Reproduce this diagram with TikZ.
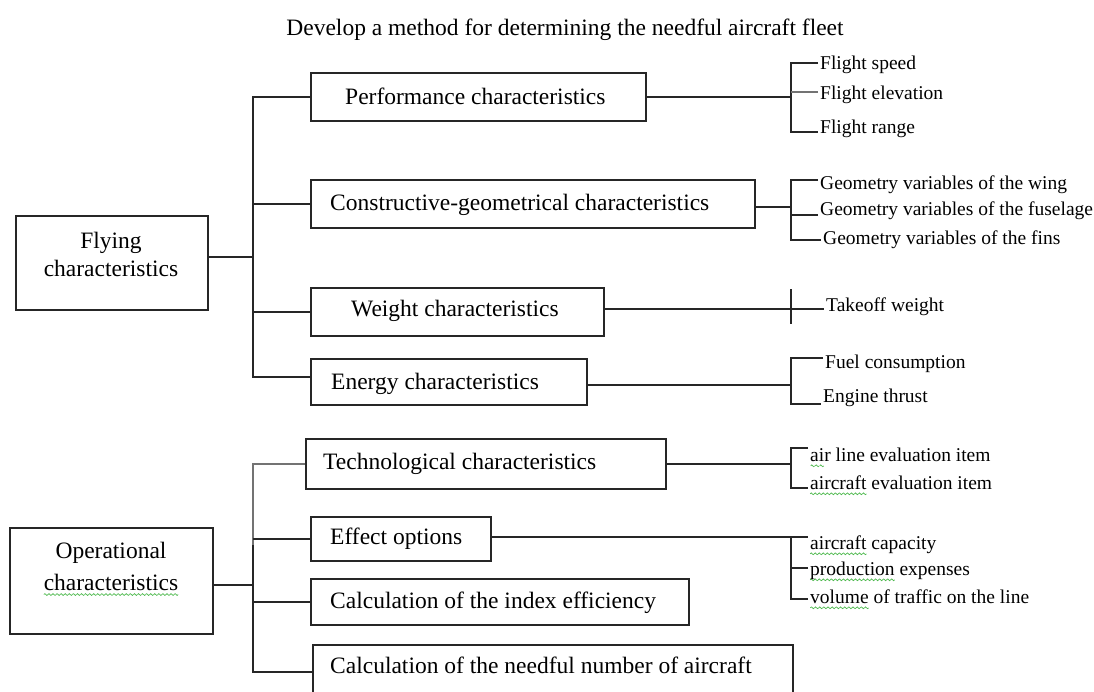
\documentclass[tikz,border=0pt]{standalone}
\usepackage{fontspec}
\setmainfont{Liberation Serif}
\usepackage{tikz}
\definecolor{squig}{HTML}{4CB84C}
\newsavebox\wavebox
% one period of the green spell-check wave
\AtBeginDocument{\global\setbox\wavebox=\hbox{\begin{pgfpicture}
  \pgfpathrectangle{\pgfpoint{0pt}{-1.5pt}}{\pgfpoint{4pt}{3pt}}\pgfusepath{use as bounding box}
  \pgfsetstrokecolor{squig}\pgfsetlinewidth{0.7pt}
  \pgfpathmoveto{\pgfpointorigin}
  \pgfpathquadraticcurveto{\pgfpoint{1pt}{1.8pt}}{\pgfpoint{2pt}{0pt}}
  \pgfpathquadraticcurveto{\pgfpoint{3pt}{-1.8pt}}{\pgfpoint{4pt}{0pt}}
  \pgfusepath{stroke}
\end{pgfpicture}}}
% green wavy underline, as left by a spell checker
\newcommand\spellwave[1]{\leavevmode\setbox0\hbox{#1}%
  \rlap{\raisebox{-6pt}[0pt][0pt]{\hbox to \wd0{\xleaders\copy\wavebox\hfill}}}\box0\relax}

\begin{document}
\begin{tikzpicture}[x=1pt,y=-1pt,
  link/.style={line width=1.9pt, draw=black!85},
  softlink/.style={line width=1.9pt, draw=black!55},
  frame/.style={draw=black!85, line width=1.9pt, anchor=north west, inner sep=0pt},
  boxtext/.style={anchor=mid west, inner sep=0pt, yshift=-5pt, font=\fontsize{23.5}{28}\selectfont},
  headtext/.style={align=center, inner sep=0pt, font=\fontsize{23.5}{28}\selectfont},
  leaf/.style={anchor=mid west, inner xsep=2pt, inner ysep=0pt, yshift=-5pt, font=\fontsize{19.5}{23}\selectfont},
]
\useasboundingbox (0,0) rectangle (1094,691);

\node[font=\fontsize{23.5}{28}\selectfont, yshift=-3pt] (title) at (565,27)
  {Develop a method for determining the needful aircraft fleet};

% ---------- flying characteristics ----------
\node[frame, minimum width=192pt, minimum height=94pt] (flying) at (15,215) {};
\node[headtext] (flying-t) at (111,254) {Flying\\characteristics};

\node[frame, minimum width=335pt, minimum height=48pt] (perf)   at (310,72)  {};
\node[frame, minimum width=444pt, minimum height=48pt] (cons)   at (310,179) {};
\node[frame, minimum width=293pt, minimum height=48pt] (weight) at (310,287) {};
\node[frame, minimum width=276pt, minimum height=46pt] (energy) at (310,358) {};

\node[boxtext] (perf-t)   at (345,97)  {Performance characteristics};
\node[boxtext] (cons-t)   at (330,203) {Constructive-geometrical characteristics};
\node[boxtext] (weight-t) at (351,309) {Weight characteristics};
\node[boxtext] (energy-t) at (331,382) {Energy characteristics};

\coordinate (fx) at (253,0);
\coordinate (fl-o) at ([yshift=6pt]flying.east);
\coordinate (en-i) at ([yshift=5pt]energy.west);
\draw[link] (fl-o) -- (fl-o -| fx);
\draw[link] (perf.west) -| (en-i -| fx) -- (en-i);
\draw[link] (cons.west -| fx) -- (cons.west);
\draw[link] (weight.west -| fx) -- (weight.west);

% leaves of the flying group
\coordinate (bx) at (791,0);
\node[leaf] (fs) at (818,62)  {Flight speed};
\node[leaf] (fe) at (818,92)  {Flight elevation};
\node[leaf] (fr) at (818,126) {Flight range};
\coordinate (fs-t) at (fs.west |- 0,63);
\coordinate (fe-t) at (fe.west |- 0,92);
\coordinate (fr-t) at (fr.west |- 0,132);
\draw[link] (perf.east) -- (perf.east -| bx);
\draw[link] (fs-t) -| (fr-t -| bx) -- (fr-t);
\draw[softlink] (fe-t) -- (fe-t -| bx);

\node[leaf] (gw) at (818,182) {Geometry variables of the wing};
\node[leaf] (gf) at (818,208) {Geometry variables of the fuselage};
\node[leaf] (gn) at (821,237) {Geometry variables of the fins};
\coordinate (gw-t) at (gw.west |- 0,180);
\coordinate (gf-t) at (gf.west |- 0,215);
\coordinate (gn-t) at (gn.west |- 0,240);
\coordinate (co-o) at ([yshift=-3pt]cons.east);
\draw[link] (co-o) -- (co-o -| bx);
\draw[link] (gw-t) -| (gn-t -| bx) -- (gn-t);
\draw[link] (gf-t) -- (gf-t -| bx);

\node[leaf] (tw) at (824,304) {Takeoff weight};
\coordinate (tw-t) at (tw.west |- 0,309);
\draw[link] (weight.east |- tw-t) -- (tw-t);
\draw[link] (tw-t -| bx) ++(0,-20) -- ++(0,35);

\node[leaf] (fc) at (823,361) {Fuel consumption};
\node[leaf] (et) at (821,395) {Engine thrust};
\coordinate (fc-t) at (fc.west |- 0,358);
\coordinate (et-t) at (et.west |- 0,404);
\coordinate (en-o) at ([yshift=-3pt]energy.east);
\draw[link] (en-o) -- (en-o -| bx);
\draw[link] (fc-t) -| (et-t -| bx) -- (et-t);

% ---------- operational characteristics ----------
\node[frame, minimum width=203pt, minimum height=106pt] (oper) at (9,527) {};
\node[headtext, font=\fontsize{23.5}{32}\selectfont] (oper-t) at (111,566)
  {Operational\\\spellwave{characteristics}};

\node[frame, minimum width=360pt, minimum height=50pt] (tech)    at (305,438) {};
\node[frame, minimum width=180pt, minimum height=44pt] (effect)  at (310,516) {};
\node[frame, minimum width=378pt, minimum height=46pt] (calcidx) at (310,578) {};
\node[frame, minimum width=480pt, minimum height=54pt] (needful) at (312,644) {};

\node[boxtext] (tech-t)    at (323,462) {Technological characteristics};
\node[boxtext] (effect-t)  at (330,537) {Effect options};
\node[boxtext] (calcidx-t) at (330,601) {Calculation of the index efficiency};
\node[boxtext] (needful-t) at (330,666) {Calculation of the needful number of aircraft};

\coordinate (ox) at (253,0);
\coordinate (osplit) at (253,545);
\coordinate (op-o) at ([yshift=-4pt]oper.east);
\draw[link] (op-o) -- (op-o -| ox);
\draw[softlink] (tech.west) -| (osplit);
\draw[link] (osplit) |- (needful.west);
\draw[link] (effect.west -| ox) -- (effect.west);
\draw[link] (calcidx.west -| ox) -- (calcidx.west);

\node[leaf] (al) at (808,454) {\spellwave{ai}r line evaluation item};
\node[leaf] (ae) at (808,482) {\spellwave{aircraft} evaluation item};
\coordinate (al-t) at (al.west |- 0,448);
\coordinate (ae-t) at (ae.west |- 0,488);
\draw[link] (tech.east) -- (tech.east -| bx);
\draw[link] (al-t) -| (ae-t -| bx) -- (ae-t);

\node[leaf] (ac) at (808,542) {\spellwave{aircraft} capacity};
\node[leaf] (pe) at (808,568) {\spellwave{production} expenses};
\node[leaf] (vl) at (808,596) {\spellwave{volume} of traffic on the line};
\coordinate (ac-t) at (ac.west |- 0,537);
\coordinate (pe-t) at (pe.west |- 0,568);
\coordinate (vl-t) at (vl.west |- 0,599);
\draw[link] (effect.east |- ac-t) -- (ac-t);
\draw[link] (ac-t -| bx) |- (vl-t);
\draw[link] (pe-t) -- (pe-t -| bx);
\end{tikzpicture}
\end{document}
